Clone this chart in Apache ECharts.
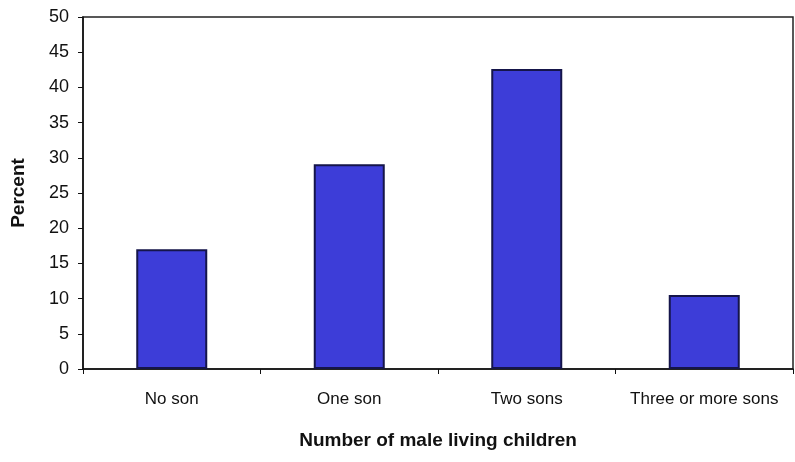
<!DOCTYPE html>
<html><head><meta charset="utf-8">
<script src="https://cdn.jsdelivr.net/npm/echarts@6/dist/echarts.min.js"></script>
<style>html,body{margin:0;padding:0;background:#fff}#c{width:795px;height:462px}</style>
</head><body><div id="c"></div>
<script>
const categories = ["No son", "One son", "Two sons", "Three or more sons"];
const percentValues = [17, 29.1, 42.6, 10.5];
const yTicks = [0, 5, 10, 15, 20, 25, 30, 35, 40, 45, 50];

const chart = echarts.init(document.getElementById('c'));
chart.setOption({
  animation: false,
  backgroundColor: '#fff',
  grid: { left: 83, right: 2, top: 17, bottom: 93, containLabel: false, outerBoundsMode: 'none', show: true, borderColor: '#222', borderWidth: 1.5, backgroundColor: 'transparent' },
  xAxis: {
    type: 'category', data: categories,
    name: 'Number of male living children', nameLocation: 'middle', nameGap: 62,
    nameTextStyle: { fontFamily: 'Liberation Sans, Arial', fontWeight: 'bold', fontSize: 19, color: '#111' },
    axisLine: { lineStyle: { color: '#111', width: 1.5 } },
    axisTick: { show: true, length: 5, interval: 0, lineStyle: { color: '#111' } },
    axisLabel: { interval: 0, hideOverlap: false, fontFamily: 'Liberation Sans, Arial', fontSize: 17, color: '#111', margin: 22 }
  },
  yAxis: {
    type: 'value', min: yTicks[0], max: yTicks[yTicks.length - 1], interval: 5,
    name: 'Percent', nameLocation: 'middle', nameGap: 55, nameRotate: 90,
    nameTextStyle: { fontFamily: 'Liberation Sans, Arial', fontWeight: 'bold', fontSize: 19, color: '#111' },
    axisLine: { show: true, lineStyle: { color: '#111', width: 1.5 } },
    axisTick: { show: true, length: 5, lineStyle: { color: '#111' } },
    splitLine: { show: false },
    axisLabel: { fontFamily: 'Liberation Sans, Arial', fontSize: 18, color: '#111', margin: 14 }
  },
  series: [{
    type: 'bar', data: percentValues, barWidth: '40%',
    itemStyle: { color: '#3d3dd8', borderColor: '#15154a', borderWidth: 2 }
  }]
});
</script></body></html>
